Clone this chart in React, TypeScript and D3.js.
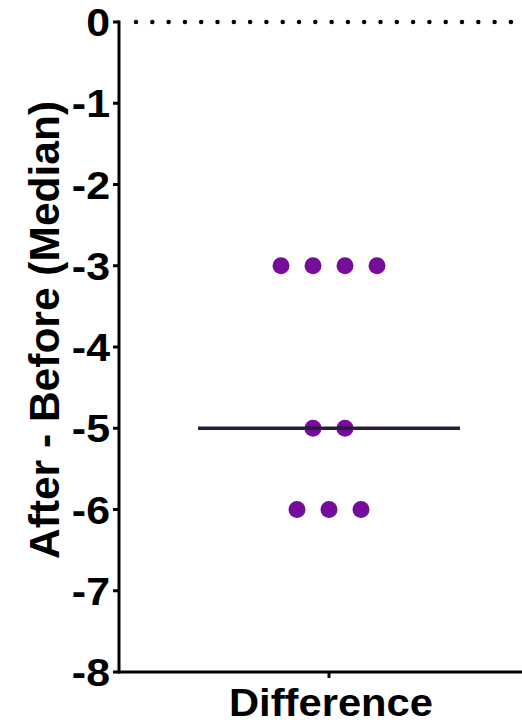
import React from "react";
import * as d3 from "d3";

const categories = ["Difference"];
const values = [-3, -3, -3, -3, -5, -5, -6, -6, -6];
const yTicks = [0, -1, -2, -3, -4, -5, -6, -7, -8];
const yLabel = "After - Before (Median)";

const W = 522;
const H = 725;
const axisX = 119;
const top = 22;
const bottom = 672;
const FONT = "'Liberation Sans', Arial, Helvetica, sans-serif";

export default function App() {
  const y = d3.scaleLinear().domain([-8, 0]).range([bottom, top]);
  const x = d3.scaleBand().domain(categories).range([axisX, 539]).padding(0);
  const cx = (x(categories[0]) as number) + x.bandwidth() / 2;
  const med = d3.median(values) as number;
  const groups = d3.groups(values, (v) => v);
  const spacing = 32;
  const pts: { x: number; y: number }[] = [];
  groups.forEach(([v, arr]) => {
    arr.forEach((_, i) => {
      pts.push({ x: cx + (i - (arr.length - 1) / 2) * spacing, y: y(v) });
    });
  });

  return (
    <svg
      width={W}
      height={H}
      style={{ position: "absolute", left: 0, top: 0, background: "#fff" }}
    >
      {/* zero dotted line */}
      <line
        x1={136}
        x2={W + 10}
        y1={y(0)}
        y2={y(0)}
        stroke="#000"
        strokeWidth={4.5}
        strokeLinecap="round"
        strokeDasharray="0 16.3"
      />
      {/* y axis */}
      <line x1={axisX} x2={axisX} y1={top - 1.5} y2={bottom + 1.5} stroke="#000" strokeWidth={3} />
      {yTicks.map((t) => (
        <g key={t}>
          <line x1={axisX - 6} x2={axisX} y1={y(t)} y2={y(t)} stroke="#000" strokeWidth={3} />
          <text
            transform={`translate(${110},${y(t) + 14}) scale(1.1,1)`}
            textAnchor="end"
            fontFamily={FONT}
            fontWeight="bold"
            fontSize={39}
            fill="#000"
          >
            {t === 0 ? "0" : `-${Math.abs(t)}`}
          </text>
        </g>
      ))}
      {/* x axis */}
      <line x1={axisX} x2={W + 10} y1={bottom} y2={bottom} stroke="#000" strokeWidth={3} />
      {categories.map((c) => {
        const px = (x(c) as number) + x.bandwidth() / 2;
        return (
          <g key={c}>
            <line x1={px} x2={px} y1={bottom} y2={bottom + 6} stroke="#000" strokeWidth={3} />
            <text
              transform={`translate(${px + 2},${716}) scale(1.07,1)`}
              textAnchor="middle"
              fontFamily={FONT}
              fontWeight="bold"
              fontSize={39}
              fill="#000"
            >
              {c}
            </text>
          </g>
        );
      })}
      {/* y label */}
      <text
        transform={`translate(${58.5},${330}) rotate(-90)`}
        textAnchor="middle"
        fontFamily={FONT}
        fontWeight="bold"
        fontSize={42.5}
        fill="#000"
      >
        {yLabel}
      </text>
      {/* points */}
      {pts.map((p, i) => (
        <circle key={i} cx={p.x} cy={p.y} r={8.5} fill="#760c9b" />
      ))}
      {/* median */}
      <line x1={cx - 131} x2={cx + 131} y1={y(med)} y2={y(med)} stroke="#2a1945" strokeWidth={3.5} />
    </svg>
  );
}
